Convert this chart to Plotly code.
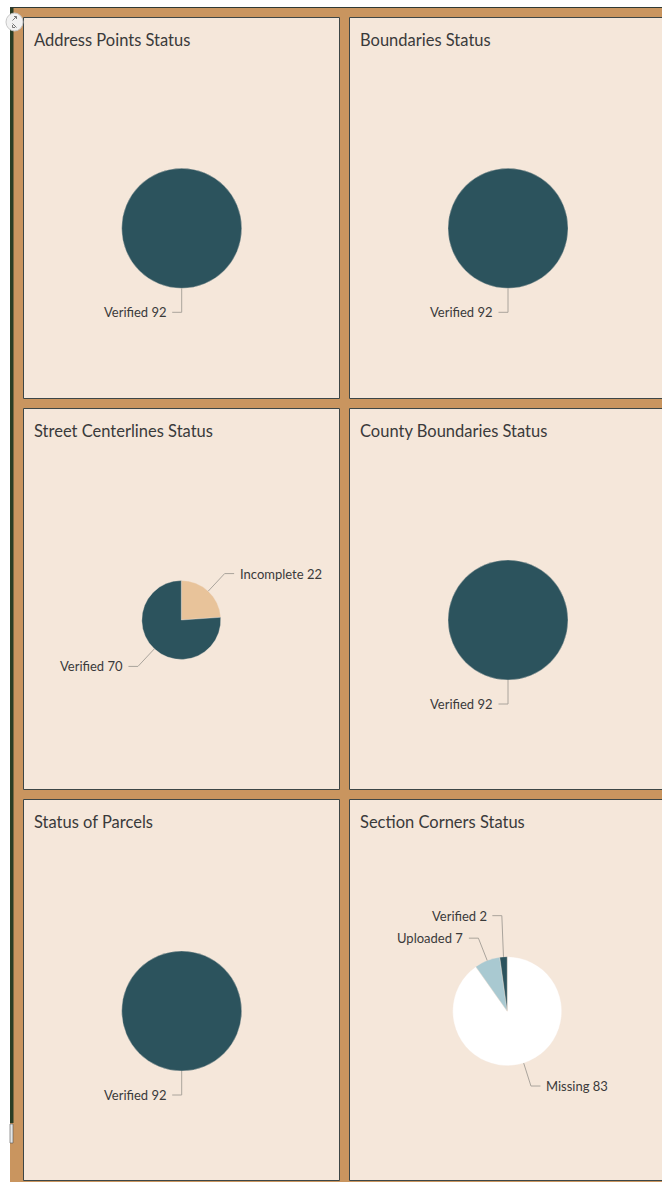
import math
import plotly.graph_objects as go

# ---------------- data ----------------
titles = [
    "Address Points Status",
    "Boundaries Status",
    "Street Centerlines Status",
    "County Boundaries Status",
    "Status of Parcels",
    "Section Corners Status",
]
labels_address = ["Verified"]
values_address = [92]
labels_boundaries = ["Verified"]
values_boundaries = [92]
labels_streets = ["Incomplete", "Verified"]
values_streets = [22, 70]
labels_county = ["Verified"]
values_county = [92]
labels_parcels = ["Verified"]
values_parcels = [92]
labels_corners = ["Missing", "Uploaded", "Verified"]
values_corners = [83, 7, 2]

status_colors = {
    "Verified": "#2c535d",
    "Incomplete": "#e8c39a",
    "Uploaded": "#a9c9d1",
    "Missing": "#ffffff",
}

# ---------------- layout config ----------------
W, H = 662, 1182
TAN = "#c9955f"
PANEL_BG = "#f5e7da"
BORDER = "#3d4646"
LEADER = "#aaa49c"
TEXT = "#3a3a3a"
FONT = "Lato, 'Noto Sans', sans-serif"

col_x = [(23, 340), (349, 672)]
row_y = [(17, 399), (408, 790), (799, 1181)]

pies = [
    (labels_address, values_address, 181.7, 228.3, 60.0),
    (labels_boundaries, values_boundaries, 508.0, 228.3, 60.0),
    (labels_streets, values_streets, 181.3, 620.0, 39.5),
    (labels_county, values_county, 508.0, 620.0, 60.0),
    (labels_parcels, values_parcels, 181.7, 1011.0, 60.0),
    (labels_corners, values_corners, 507.2, 1011.2, 54.5),
]

fig = go.Figure()
shapes = []
annotations = []

# page background pieces
shapes.append(dict(type="rect", x0=10, x1=W, y0=7, y1=H, fillcolor=TAN, line=dict(width=0), layer="below"))
shapes.append(dict(type="line", x0=10, x1=W, y0=7.5, y1=7.5, line=dict(color="#2f3a35", width=1), layer="below"))
shapes.append(dict(type="rect", x0=10, x1=13.5, y0=8, y1=1123, fillcolor="#2a3d24", line=dict(width=0), layer="below"))
shapes.append(dict(type="rect", x0=10, x1=13, y0=1124, y1=1143, fillcolor="#e4e6e6", line=dict(color="#555", width=0.6), layer="below"))

# panels
for i, t in enumerate(titles):
    r, c = divmod(i, 2)
    x0, x1 = col_x[c]
    y0, y1 = row_y[r]
    shapes.append(dict(type="rect", x0=x0 + 0.5, x1=x1 - 0.5, y0=y0 + 0.5, y1=y1 - 0.5,
                       fillcolor=PANEL_BG, line=dict(color=BORDER, width=1), layer="below"))
    annotations.append(dict(x=x0 + 8.5, y=y0 + 22.5, xref="x", yref="y", text=t, showarrow=False,
                            xanchor="left", yanchor="middle",
                            font=dict(family=FONT, size=16.5, color=TEXT)))

# expand icon at top-left
shapes.append(dict(type="circle", x0=6, x1=23, y0=13, y1=31, fillcolor="#f2f2f2",
                   line=dict(color="#c8c8c8", width=1), layer="above"))
shapes.append(dict(type="path", path="M12.5,20.5 L16.5,16.5 M14,16.5 L16.5,16.5 L16.5,19",
                   line=dict(color="#777777", width=1), layer="above"))
shapes.append(dict(type="path", path="M12.5,23.5 L16.5,27.5 M12.5,25 L12.5,27.5 L15,27.5",
                   line=dict(color="#777777", width=1), layer="above"))

L_EXT = 24
H_SEG = 9.5
GAP = 3.5
SPACING = 22.5

for labels, values, cx, cy, rad in pies:
    fig.add_trace(go.Pie(
        labels=labels, values=values, sort=False, direction="clockwise", rotation=0,
        textinfo="none", hoverinfo="label+value", showlegend=False,
        marker=dict(colors=[status_colors[l] for l in labels], line=dict(color="rgba(245,231,218,0.6)", width=0.6)),
        domain=dict(x=[(cx - rad) / W, (cx + rad) / W], y=[1 - (cy + rad) / H, 1 - (cy - rad) / H]),
    ))
    total = float(sum(values))
    cum = 0.0
    items = []
    for lab, v in zip(labels, values):
        theta = math.radians((cum + v / 2.0) / total * 360.0)
        cum += v
        px, py = cx + rad * math.sin(theta), cy - rad * math.cos(theta)
        ex, ey = cx + (rad + L_EXT) * math.sin(theta), cy - (rad + L_EXT) * math.cos(theta)
        side = 1 if math.sin(theta) > 0.01 else -1
        items.append(dict(lab=lab, v=v, px=px, py=py, ex=ex, ey=ey, side=side))
    # simple overlap avoidance per side
    for side in (1, -1):
        s_items = sorted([it for it in items if it["side"] == side], key=lambda d: -d["ey"])
        prev = None
        for it in s_items:
            if prev is not None and it["ey"] > prev - SPACING:
                it["ey"] = prev - SPACING
            prev = it["ey"]
    for it in items:
        hx = it["ex"] + it["side"] * H_SEG
        shapes.append(dict(type="path",
                           path=f"M{it['px']:.2f},{it['py']:.2f} L{it['ex']:.2f},{it['ey']:.2f} L{hx:.2f},{it['ey']:.2f}",
                           line=dict(color=LEADER, width=1), layer="above"))
        annotations.append(dict(x=hx + it["side"] * GAP, y=it["ey"], xref="x", yref="y",
                                text=f"{it['lab']} {it['v']}", showarrow=False,
                                xanchor="left" if it["side"] > 0 else "right", yanchor="middle",
                                font=dict(family=FONT, size=13, color=TEXT)))

fig.update_layout(
    width=W, height=H, margin=dict(l=0, r=0, t=0, b=0),
    paper_bgcolor="#ffffff", plot_bgcolor="rgba(0,0,0,0)",
    xaxis=dict(range=[0, W], visible=False, fixedrange=True),
    yaxis=dict(range=[H, 0], visible=False, fixedrange=True),
    shapes=shapes, annotations=annotations, showlegend=False,
)

fig.write_html("out.html", config={"displayModeBar": False},
               post_script="document.body.style.margin='0';document.body.style.overflow='hidden';")
